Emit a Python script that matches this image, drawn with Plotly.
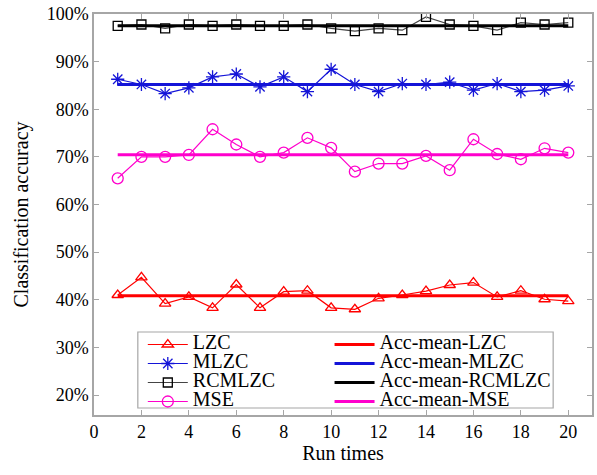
import numpy as np
import plotly.graph_objects as go

# Run index
runs = list(range(1, 21))

# Classification accuracy (%) for each run
lzc = [41.0, 44.7, 39.2, 40.6, 38.3, 43.2, 38.3, 41.7, 41.9, 38.3,
       38.0, 40.3, 41.0, 41.8, 43.1, 43.6, 40.6, 41.9, 40.1, 39.7]
mlzc = [86.3, 85.2, 83.3, 84.5, 86.8, 87.4, 84.7, 86.8, 83.7, 88.4,
        85.2, 83.7, 85.4, 85.2, 85.7, 84.0, 85.4, 83.7, 84.0, 84.9]
rcmlzc = [97.5, 97.8, 97.0, 97.8, 97.5, 97.8, 97.5, 97.5, 97.8, 97.0,
          96.4, 97.0, 96.6, 99.4, 97.8, 97.5, 96.6, 98.2, 97.8, 98.2]
mse = [65.5, 70.0, 70.0, 70.4, 75.8, 72.6, 70.0, 70.9, 74.0, 71.9,
       66.9, 68.6, 68.6, 70.2, 67.2, 73.7, 70.6, 69.5, 71.8, 70.9]

x_ticks = list(range(0, 21, 2))
y_ticks = list(range(20, 101, 10))
y_tick_text = [f"{v}%" for v in y_ticks]

FONT = "Liberation Serif"
RED = "#ff0000"
BLUE = "#1414d8"
BLACK = "#000000"
MAGENTA = "#ff00cc"


def label(text):
    return f'<span style="font-size:20px">{text}</span>'


series = [
    ("LZC", lzc, RED, "triangle-up-open", 10),
    ("MLZC", mlzc, BLUE, "asterisk-open", 11),
    ("RCMLZC", rcmlzc, BLACK, "square-open", 9),
    ("MSE", mse, MAGENTA, "circle-open", 11),
]

fig = go.Figure()

for name, vals, color, sym, size in series:
    fig.add_trace(go.Scatter(
        x=runs, y=vals, mode="lines+markers", name=label(name),
        line=dict(color=color if name != "RCMLZC" else "#444444", width=1.2),
        marker=dict(symbol=sym, size=size, color=color,
                    line=dict(color=color, width=1.3)),
        legend="legend",
    ))

for name, vals, color, sym, size in series:
    m = float(np.mean(vals))
    fig.add_trace(go.Scatter(
        x=[runs[0], runs[-1]], y=[m, m], mode="lines",
        name=label("Acc-mean-" + name),
        line=dict(color=color, width=3),
        legend="legend2",
    ))

axis_common = dict(
    showline=True, linecolor="#a6a6a6", linewidth=1.5, mirror="ticks",
    ticks="inside", ticklen=5, tickcolor="#a6a6a6", tickwidth=1,
    showgrid=False, zeroline=False, automargin=False,
    tickfont=dict(family=FONT, size=18, color="black"),
)

legend_common = dict(
    yanchor="top", xanchor="left", y=0.212,
    bgcolor="rgba(0,0,0,0)", borderwidth=0, itemwidth=40,
    font=dict(family=FONT, size=12, color="black"),
    tracegroupgap=0,
)

fig.update_layout(
    width=597, height=475,
    margin=dict(l=94, r=5, t=14, b=60),
    paper_bgcolor="white", plot_bgcolor="white",
    font=dict(family=FONT, color="black"),
    showlegend=True,
    xaxis=dict(
        range=[0, 21], tickvals=x_ticks,
        title=dict(text="Run times", font=dict(family=FONT, size=20), standoff=4),
        **axis_common,
    ),
    yaxis=dict(
        range=[15.8, 100], tickvals=y_ticks, ticktext=y_tick_text,
        title=dict(text="Classification accuracy", font=dict(family=FONT, size=20), standoff=13),
        **axis_common,
    ),
    legend=dict(x=0.098, **legend_common),
    legend2=dict(x=0.473, **legend_common),
    shapes=[dict(
        type="rect", xref="paper", yref="paper",
        x0=0.088, x1=0.922, y0=0.0175, y1=0.207,
        line=dict(color="#a6a6a6", width=1.2), fillcolor="rgba(0,0,0,0)",
        layer="above",
    )],
)

fig.write_html("out.html")
